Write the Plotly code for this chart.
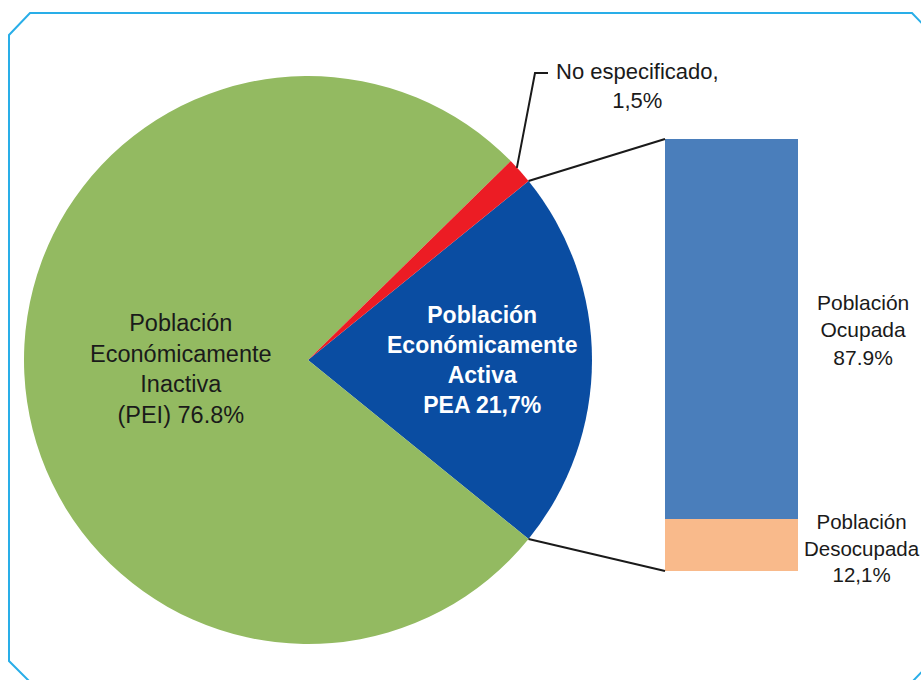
import math
import plotly.graph_objects as go

# ---- data ----
pie_labels = ["Población Económicamente Activa", "Población Económicamente Inactiva", "No especificado"]
pie_values = [21.7, 76.8, 1.5]
pie_texts = [
    "<b>Población<br>Económicamente<br>Activa<br>PEA 21,7%</b>",
    "Población<br>Económicamente<br>Inactiva<br>(PEI) 76.8%",
    "No especificado,<br>1,5%",
]
pie_colors = ["#0A4DA2", "#93BA61", "#EC1C24"]

bar_labels = ["Población Desocupada", "Población Ocupada"]
bar_values = [12.1, 87.9]
bar_texts = ["Población<br>Desocupada<br>12,1%", "Población<br>Ocupada<br>87.9%"]
bar_colors = ["#F9BA8B", "#4A7EBB"]

W, H = 921, 680
FONT = "Liberation Sans, Arial, sans-serif"

# pie geometry (pixels)
cx, cy, R = 308, 360, 284
pie_dom_x = [(cx - R) / W, (cx + R) / W]
pie_dom_y = [1 - (cy + R) / H, 1 - (cy - R) / H]

total = sum(pie_values)
active_deg = pie_values[0] / total * 360
rotation = 90 - active_deg / 2  # centre the active slice on the right side


def px(x):
    return x / W


def py(y):
    return 1 - y / H


# bar geometry (pixels)
bx0, bx1, by_top, by_bot = 665, 798, 139, 571

fig = go.Figure()
fig.add_trace(go.Pie(
    labels=pie_labels, values=pie_values, sort=False, direction="clockwise",
    rotation=rotation, marker=dict(colors=pie_colors, line=dict(width=0)),
    textinfo="none", hoverinfo="label+percent", domain=dict(x=pie_dom_x, y=pie_dom_y),
    showlegend=False,
))

for lab, val, col in zip(bar_labels, bar_values, bar_colors):
    fig.add_trace(go.Bar(
        x=[0], y=[val], name=lab, marker=dict(color=col, line=dict(width=0)),
        width=1, xaxis="x", yaxis="y", showlegend=False,
    ))

fig.update_layout(
    width=W, height=H, margin=dict(l=0, r=0, t=0, b=0),
    paper_bgcolor="white", plot_bgcolor="rgba(0,0,0,0)",
    barmode="stack", bargap=0,
    xaxis=dict(domain=[px(bx0), px(bx1)], range=[-0.5, 0.5], visible=False, fixedrange=True),
    yaxis=dict(domain=[py(by_bot), py(by_top)], range=[0, sum(bar_values)], visible=False, fixedrange=True),
    font=dict(family=FONT, color="#1a1a1a"),
)

# edge points of the pie derived from data
def edge(angle_deg_ccw):
    a = math.radians(angle_deg_ccw)
    return cx + R * math.cos(a), cy - R * math.sin(a)

top_pt = edge(active_deg / 2)
bot_pt = edge(-active_deg / 2)
red_mid = edge(active_deg / 2 + pie_values[2] / total * 360 / 2)

shapes = []
# connector lines pie -> bar
for (x0, y0), (x1, y1) in [(top_pt, (bx0, by_top)), (bot_pt, (bx0, by_bot))]:
    shapes.append(dict(type="line", xref="paper", yref="paper",
                       x0=px(x0), y0=py(y0), x1=px(x1), y1=py(y1),
                       line=dict(color="#1a1a1a", width=2)))
# leader line for "No especificado"
lx, ly = red_mid[0] - 3, red_mid[1] - 3
shapes.append(dict(type="path", xref="paper", yref="paper",
                   path=f"M {px(lx)} {py(ly)} L {px(535)} {py(73)} L {px(548)} {py(73)}",
                   line=dict(color="#1a1a1a", width=2)))
# chamfered border frame
pts = [(9, 35), (30, 13), (912, 13), (935, 37), (935, 658), (912, 682), (30, 682), (9, 661)]
path = "M " + " L ".join(f"{px(x)} {py(y)}" for x, y in pts) + " Z"
shapes.append(dict(type="path", xref="paper", yref="paper", path=path,
                   line=dict(color="#29AEE8", width=2), fillcolor="rgba(0,0,0,0)"))
fig.update_layout(shapes=shapes)

ann = [
    dict(text=pie_texts[1], x=px(181), y=py(369), font=dict(size=23.5, color="#1a1a1a")),
    dict(text=pie_texts[0], x=px(482), y=py(360), font=dict(size=23, color="white")),
    dict(text=pie_texts[2], x=px(637), y=py(86), font=dict(size=22, color="#1a1a1a")),
    dict(text=bar_texts[1], x=px(863), y=py(330), font=dict(size=21, color="#1a1a1a")),
    dict(text=bar_texts[0], x=px(862), y=py(548), font=dict(size=20.5, color="#1a1a1a")),
]
for a in ann:
    a.update(xref="paper", yref="paper", showarrow=False, xanchor="center", yanchor="middle", align="center")
fig.update_layout(annotations=ann)

fig.write_html("out.html", config={"displayModeBar": False},
               post_script="document.body.style.margin='0';document.body.style.overflow='hidden';")
